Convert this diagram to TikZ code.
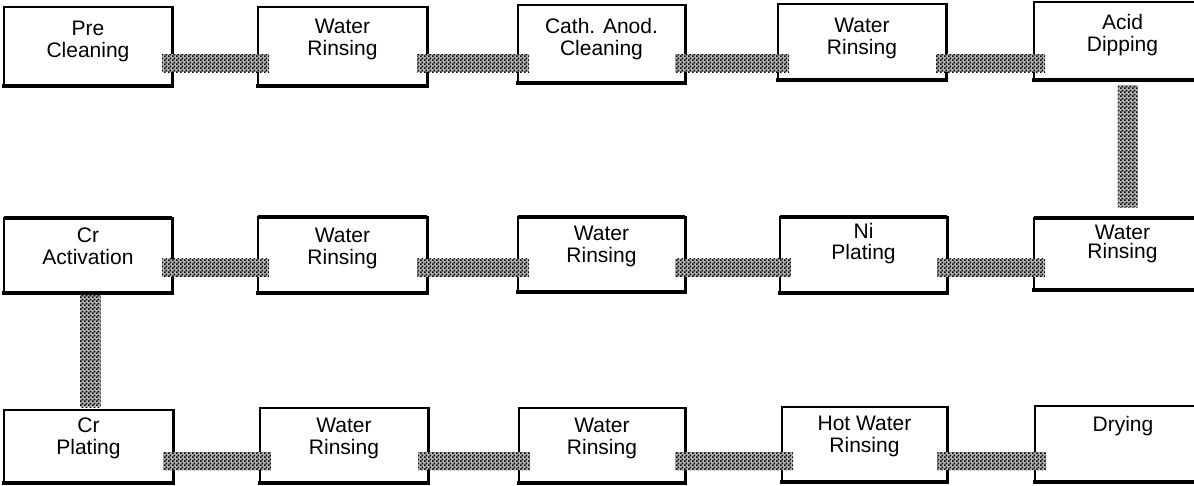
\documentclass[tikz,border=0pt]{standalone}
\usepackage{fontspec}
\setmainfont{Liberation Sans}
\usetikzlibrary{calc,patterns.meta}

% fine black/white chequer used for the connecting bars
\tikzdeclarepattern{
  name=chequer,
  type=uncolored,
  bottom left={(0pt,0pt)},
  top right={(4pt,4pt)},
  tile size={(4pt,4pt)},
  code={
    \fill (0pt,0pt) rectangle (2pt,2pt);
    \fill (2pt,2pt) rectangle (4pt,4pt);
  }
}

\tikzset{
  stagebox/.style={draw=black, line width=2pt, rectangle, inner sep=0pt, outer sep=0pt, fill=white},
  stagetext/.style={anchor=north, align=center, inner sep=0pt,
    font=\fontsize{21}{22}\selectfont},
  linkbar/.style={fill=gray!60, postaction={pattern=chequer, pattern color=black}},
  heavyedge/.style={line width=3.5pt, line cap=rect},
}

% \stage{name}{left}{top}{right}{bottom}{baseline below top}{text}
\newcommand\stage[7]{%
  \node[stagebox, minimum width={#4-#2}, minimum height={#5-#3}] (#1)
    at ({(#2+#4)/2},{(#3+#5)/2}) {};
  \draw[heavyedge] (#1.south west) -- (#1.south east);
  \draw[heavyedge, line width=3pt] (#1.north east) -- (#1.south east);
  \node[stagetext] at ($(#1.north)+(0,#6-15)$) {#7};%
}
% horizontal bar between two neighbouring stages, centred on a row line
\newcommand\hlink[3]{%
  \path[linkbar] ($(#1.east |- #3)+(-10,-9)$) rectangle ($(#2.west |- #3)+(11,9)$);%
}

\begin{document}
\begin{tikzpicture}[x=1pt,y=-1pt]
\useasboundingbox (0,0) rectangle (1194,485);
\clip (0,0) rectangle (1194,485);
\fill[white] (0,0) rectangle (1194,485);

% first row
\stage{b1}{4}{7}{172}{86}{29}{Pre\\Cleaning}
\stage{b2}{258}{7}{427}{86}{27}{Water\\Rinsing}
\stage{b3}{518}{5}{685}{83}{28}{Cath. Anod.\\Cleaning}
\stage{b4}{778}{4}{946}{80}{29}{Water\\Rinsing}
\stage{b5}{1034}{2}{1211}{80}{27}{Acid\\Dipping}

% second row
\stage{c1}{4}{218}{172}{293}{25}{Cr\\Activation}
\stage{c2}{258}{217}{427}{293}{26}{Water\\Rinsing}
\stage{c3}{518}{217}{685}{292}{24}{Water\\Rinsing}
\stage{c4}{780}{217}{947}{293}{21}{Ni\\[-1pt]Plating}
\stage{c5}{1034}{218}{1211}{290}{22}{Water\\[-3pt]Rinsing}
\foreach \n in {c1,c2,c3,c4,c5}
  \draw[heavyedge, line width=4pt, line cap=butt] (\n.north west) -- (\n.north east);

% third row
\stage{d1}{4}{410}{173}{483}{23}{Cr\\Plating}
\stage{d2}{260}{408}{428}{483}{25}{Water\\Rinsing}
\stage{d3}{519}{408}{685}{483}{25}{Water\\Rinsing}
\stage{d4}{782}{407}{947}{482}{24}{Hot Water\\Rinsing}
\stage{d5}{1035}{406}{1211}{482}{25}{Drying}

% centre lines of the bars in each row
\coordinate (r1) at (0,63);
\coordinate (r2) at (0,267.5);
\coordinate (r3) at (0,461);

\hlink{b1}{b2}{r1}
\hlink{b2}{b3}{r1}
\hlink{b3}{b4}{r1}
\hlink{b4}{b5}{r1}

\hlink{c1}{c2}{r2}
\hlink{c2}{c3}{r2}
\hlink{c3}{c4}{r2}
\hlink{c4}{c5}{r2}

\hlink{d1}{d2}{r3}
\hlink{d2}{d3}{r3}
\hlink{d3}{d4}{r3}
\hlink{d4}{d5}{r3}

% vertical bars between the rows
\path[linkbar] ($(b5.south)+(-5,5)$) rectangle ($(c5.north)+(15,-11)$);
\path[linkbar] ($(c1.south)+(-8,2)$) rectangle ($(d1.north)+(12,-3)$);
\end{tikzpicture}
\end{document}
